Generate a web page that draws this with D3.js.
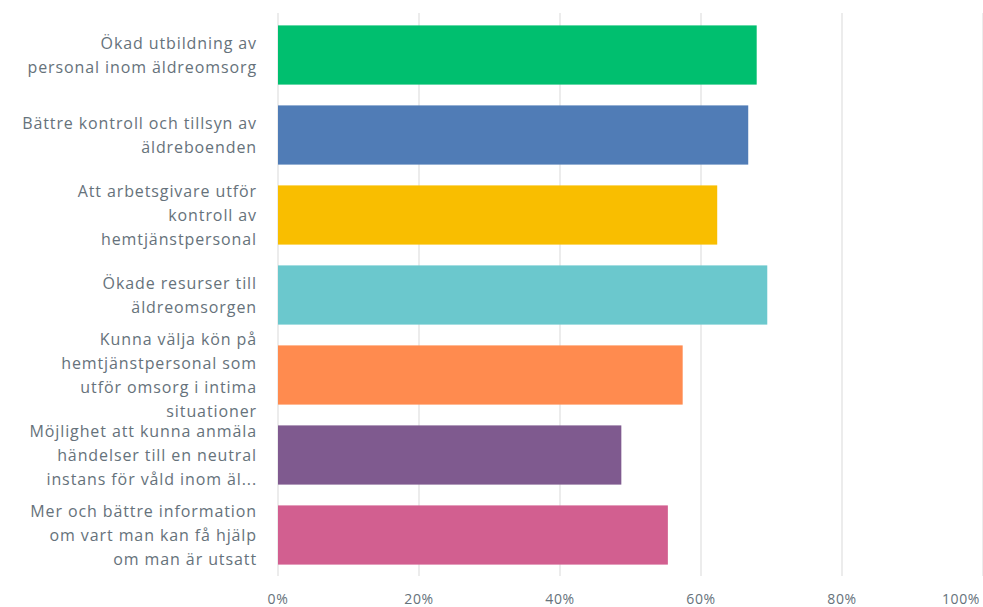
<!DOCTYPE html>
<html><head><meta charset="utf-8">
<script src="https://cdn.jsdelivr.net/npm/d3@7"></script>
<style>html,body{margin:0;padding:0;background:#fff;}svg{display:block;}</style>
</head><body>
<svg id="chart" width="983" height="607"></svg>
<script>
const categories = [
  "Ökad utbildning av personal inom äldreomsorg",
  "Bättre kontroll och tillsyn av äldreboenden",
  "Att arbetsgivare utför kontroll av hemtjänstpersonal",
  "Ökade resurser till äldreomsorgen",
  "Kunna välja kön på hemtjänstpersonal som utför omsorg i intima situationer",
  "Möjlighet att kunna anmäla händelser till en neutral instans för våld inom äl...",
  "Mer och bättre information om vart man kan få hjälp om man är utsatt"
];
const labelLines = [
  ["Ökad utbildning av", "personal inom äldreomsorg"],
  ["Bättre kontroll och tillsyn av", "äldreboenden"],
  ["Att arbetsgivare utför", "kontroll av", "hemtjänstpersonal"],
  ["Ökade resurser till", "äldreomsorgen"],
  ["Kunna välja kön på", "hemtjänstpersonal som", "utför omsorg i intima", "situationer"],
  ["Möjlighet att kunna anmäla", "händelser till en neutral", "instans för våld inom äl..."],
  ["Mer och bättre information", "om vart man kan få hjälp", "om man är utsatt"]
];
const values = [67.9, 66.7, 62.3, 69.4, 57.4, 48.7, 55.3];
const colors = ["#00bf6f", "#507cb6", "#f9be00", "#6bc8cd", "#ff8b4f", "#7f5a8f", "#d25f90"];
const tickValues = [0, 20, 40, 60, 80, 100];

const svg = d3.select("#chart");
const x = d3.scaleLinear().domain([0, 100]).range([278, 983]);
const y = d3.scaleBand().domain(categories).range([15, 575]).paddingInner(0.26).paddingOuter(0.13);

// gridlines
svg.append("g").selectAll("line").data(tickValues).join("line")
  .attr("x1", d => x(d)).attr("x2", d => x(d))
  .attr("y1", 13).attr("y2", 576)
  .attr("stroke", "#ececec").attr("stroke-width", 2);

// bars
svg.append("g").selectAll("rect").data(categories).join("rect")
  .attr("x", x(0)).attr("y", d => y(d))
  .attr("width", (d, i) => x(values[i]) - x(0))
  .attr("height", y.bandwidth())
  .attr("fill", (d, i) => colors[i]);

// category labels
const lh = 24;
const lg = svg.append("g").attr("font-family", "'Open Sans', sans-serif").attr("font-size", 16)
  .attr("letter-spacing", 0.9).attr("fill", "#66727b");
categories.forEach((c, i) => {
  const lines = labelLines[i];
  const cy = y(c) + y.bandwidth() / 2;
  const t = lg.append("text").attr("text-anchor", "end").attr("dominant-baseline", "central");
  lines.forEach((l, j) => {
    t.append("tspan").attr("x", 257).attr("y", cy + (j - (lines.length - 1) / 2) * lh).text(l);
  });
});

// x tick labels
svg.append("g").attr("font-family", "'Open Sans', sans-serif").attr("font-size", 14)
  .attr("letter-spacing", 0.6).attr("fill", "#66727b")
  .selectAll("text").data(tickValues).join("text")
  .attr("x", d => d === 100 ? 980 : x(d))
  .attr("y", 598)
  .attr("text-anchor", d => d === 100 ? "end" : "middle")
  .attr("dominant-baseline", "central")
  .text(d => d + "%");
</script>
</body></html>
